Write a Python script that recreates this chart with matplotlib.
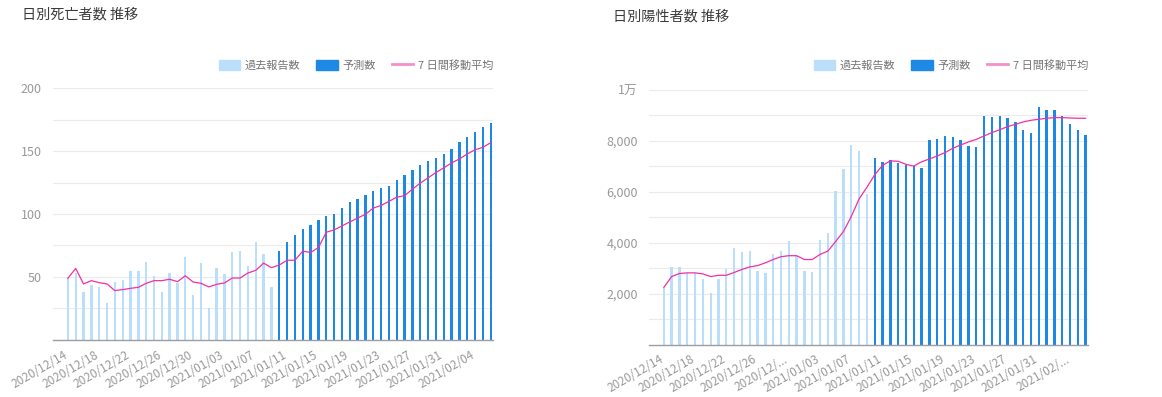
import numpy as np
import pandas as pd
import matplotlib
matplotlib.use('Agg')
import matplotlib.pyplot as plt
import matplotlib.transforms as mtransforms
from matplotlib.patches import Patch
from matplotlib.lines import Line2D

plt.rcParams['font.family'] = ['Noto Sans CJK JP', 'DejaVu Sans']

dates = pd.date_range('2020-12-14', '2021-02-06', freq='D')
n_past = 27  # 2020/12/14 - 2021/01/09 reported, the rest predicted

# daily deaths
deaths = [50, 53, 38, 44, 42, 29, 46, 48, 55, 55, 62, 51, 38, 53, 45, 66, 36, 61, 25, 57,
          52, 70, 71, 59, 78, 68, 42,
          70.5, 77.6, 83.2, 87.9, 91.1, 95, 98.2, 99.7, 104.5, 109.2, 111.6, 114.7, 117.9,
          121, 122.6, 126.6, 131.3, 135.3, 139.2, 142.4, 144.7, 147.9, 151.8, 157.4, 161.3,
          165.3, 169.2, 172.4]
deaths_ma = [49, 56.8, 44.5, 47.1, 45.5, 44.5, 39.2, 40, 41, 41.8, 45, 47.1, 47.1, 48.2,
             46.3, 51, 46, 45, 42.1, 44.2, 45.3, 49.2, 49.2, 53.2, 55.3, 61, 57.4, 59.5,
             63.3, 63.3, 70.5, 69.5, 73.4, 85.5, 87.4, 90.5, 93.7, 96.8, 99.7, 104.7, 106.8,
             110, 113.4, 114.5, 119.7, 124.5, 128.7, 132.9, 136.6, 140.5, 143.7, 147.6, 151,
             152.9, 156.6]

# daily positives
cases = [2210, 3030, 3030, 2810, 2810, 2560, 2010, 2560, 2950, 3780, 3620, 3660, 2875, 2800,
         3540, 3660, 4050, 3460, 2875, 2840, 4090, 4400, 6050, 6915, 7856, 7620, 5910,
         7330, 7170, 7250, 7130, 7070, 7015, 6940, 8040, 8075, 8195, 8155, 8040, 7800, 7760,
         8980, 8940, 8980, 8900, 8745, 8430, 8310, 9330, 9215, 9215, 8980, 8665, 8430, 8230]
cases_ma = [2240, 2670, 2790, 2815, 2815, 2775, 2670, 2720, 2720, 2830, 2950, 3050, 3100,
            3210, 3340, 3450, 3490, 3490, 3340, 3340, 3540, 3670, 4050, 4440, 5030, 5720,
            6180, 6670, 7040, 7215, 7200, 7080, 7010, 7180, 7290, 7410, 7540, 7710, 7840,
            7960, 8060, 8195, 8325, 8440, 8560, 8650, 8745, 8810, 8850, 8890, 8915, 8915,
            8900, 8890, 8890]

tick_idx = list(range(0, 55, 4))
left_ticklabels = [dates[i].strftime('%Y/%m/%d') for i in tick_idx]
right_ticklabels = list(left_ticklabels)
right_ticklabels[4] = '2020/12/...'
right_ticklabels[13] = '2021/02/...'

LIGHT = '#bbdefb'
DARK = '#1e88e5'
PINK = '#f22fa6'
TICK = '#999999'
LEGEND_TXT = '#757575'

fig = plt.figure(figsize=(11.62, 3.97), dpi=100)
ax1 = fig.add_axes([0.0456, 0.1436, 0.3787, 0.6347])
ax2 = fig.add_axes([0.5585, 0.1322, 0.3778, 0.6411])


def draw(ax, values, ma, ymax, ystep, labeled, ticklabels, label_fmt):
    x = np.arange(len(values))
    vals = np.array(values, dtype=float)
    past = x < n_past
    ax.bar(x[past], vals[past], width=0.3, color=LIGHT, zorder=2)
    ax.bar(x[~past], vals[~past], width=0.3, color=DARK, zorder=2)
    ax.plot(x, ma, color=PINK, lw=0.9, zorder=3)

    ax.set_xlim(-1.9, 54.3)
    ax.set_ylim(0, ymax)
    yt = np.arange(ystep, ymax + 1, ystep)
    ax.set_yticks(yt)
    ax.set_yticklabels([label_fmt(v) if v in labeled else '' for v in yt])
    ax.yaxis.grid(True, color='#ebebeb', lw=0.8, zorder=0)
    ax.set_axisbelow(True)

    ax.set_xticks(tick_idx)
    ax.tick_params(axis='both', length=0, colors=TICK)
    ax.tick_params(axis='x', pad=6, labelsize=8.5)
    ax.tick_params(axis='y', pad=8, labelsize=9)
    ax.set_xticklabels(ticklabels, rotation=30, ha='right', va='top',
                       rotation_mode='anchor')
    # labels sit a little left of their bars
    offset = mtransforms.ScaledTranslation(-5 / 100, 0, fig.dpi_scale_trans)
    for lbl in ax.get_xticklabels():
        lbl.set_transform(lbl.get_transform() + offset)

    for s in ['top', 'right', 'left']:
        ax.spines[s].set_visible(False)
    ax.spines['bottom'].set_color('#9e9e9e')
    ax.spines['bottom'].set_linewidth(1)


draw(ax1, deaths, deaths_ma, 200, 25, [50, 100, 150, 200], left_ticklabels,
     lambda v: f'{int(v)}')
draw(ax2, cases, cases_ma, 10000, 1000, [2000, 4000, 6000, 8000, 10000], right_ticklabels,
     lambda v: '1万' if v == 10000 else f'{int(v):,}')

handles = [Patch(color=LIGHT, label='過去報告数'),
           Patch(color=DARK, label='予測数'),
           Line2D([], [], color='#f48fc7', lw=2, label='7 日間移動平均')]
for ax, xr in [(ax1, 493 / 1162), (ax2, 1088 / 1162)]:
    leg = ax.legend(handles=handles, loc='center right', bbox_to_anchor=(xr, 1 - 65 / 397),
                    bbox_transform=fig.transFigure, ncol=3, frameon=False,
                    borderaxespad=0, borderpad=0, fontsize=8,
                    handlelength=1.9, handleheight=1.05, handletextpad=0.4,
                    columnspacing=1.5)
    for t in leg.get_texts():
        t.set_color(LEGEND_TXT)

fig.text(22 / 1162, 1 - 15 / 397, '日別死亡者数 推移', fontsize=10.2, color='#3c3c3c', va='center')
fig.text(613 / 1162, 1 - 17 / 397, '日別陽性者数 推移', fontsize=10.2, color='#3c3c3c', va='center')

fig.savefig('out.png', dpi=100, facecolor='white')
